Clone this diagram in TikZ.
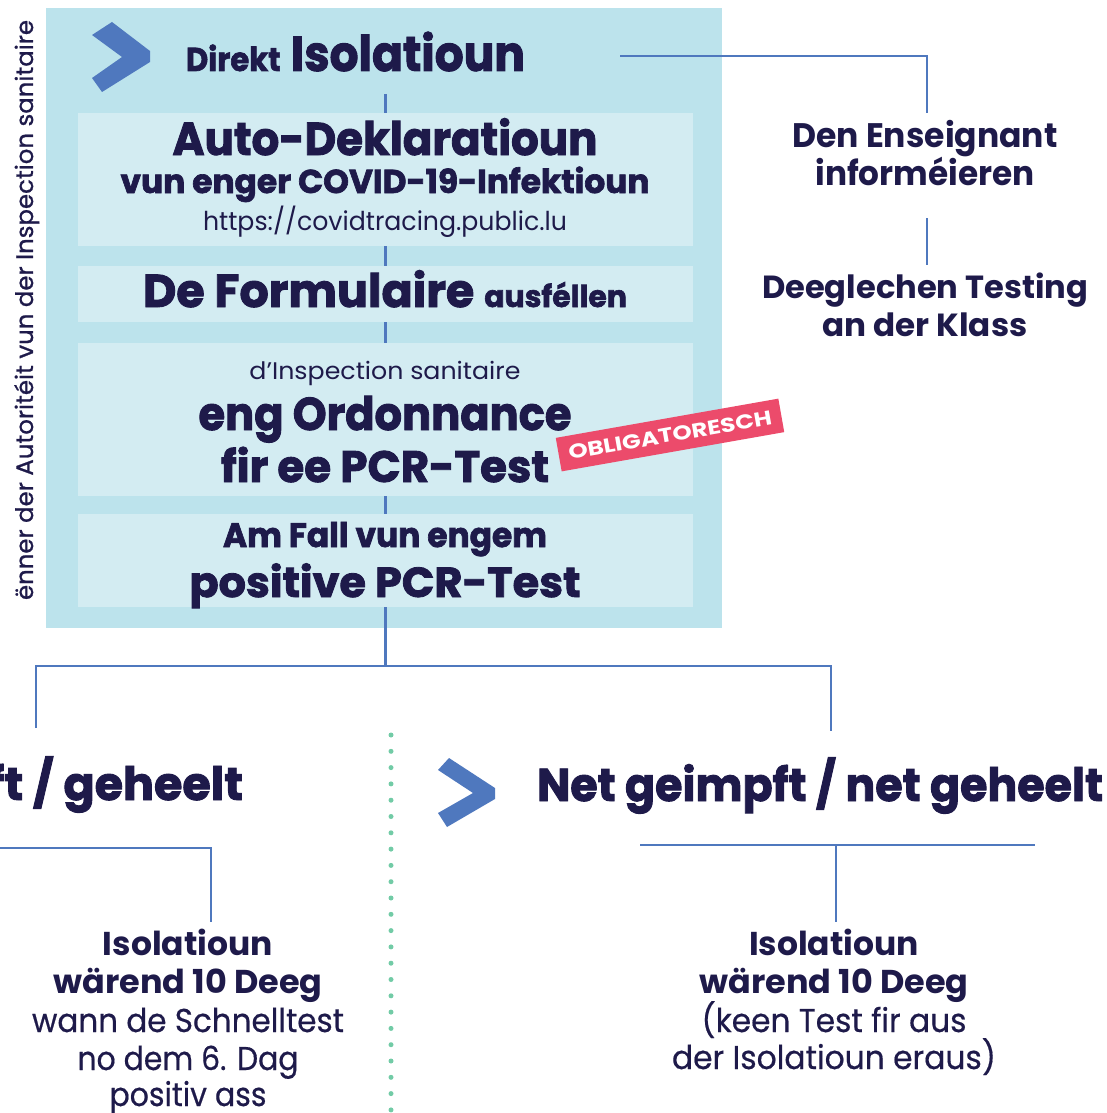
\documentclass[tikz,border=0pt]{standalone}
\usepackage{fontspec}
\usepackage{graphicx}
\setmainfont{Poppins}
\newfontfamily\heavy{Poppins}[BoldFeatures={FakeBold=2}]
\newfontfamily\medium{Poppins}[UprightFeatures={FakeBold=0.5}]
\newfontfamily\sidefont{Poppins}[UprightFeatures={FakeBold=0.9}]
\definecolor{navy}{HTML}{1E1A4A}
\definecolor{lineblue}{HTML}{4F78BE}
\definecolor{outerbg}{HTML}{BCE3EC}
\definecolor{innerbg}{HTML}{D3ECF2}
\definecolor{badgepink}{HTML}{EC4B6B}
\definecolor{dotgreen}{HTML}{72CBA6}
\newcommand\fw[2]{\resizebox{#1pt}{\height}{#2}}
\newcommand\fsz[1]{\fontsize{#1}{#1}\selectfont}
\newcommand\hv{\heavy\bfseries}
\begin{document}
\begin{tikzpicture}[x=1pt,y=-1pt,
  every node/.style={inner sep=0pt,outer sep=0pt,text=navy},
  txt/.style={anchor=base},
  link/.style={draw=lineblue,line width=2.5pt},
  panelbox/.style={fill=outerbg,draw=none,anchor=north west},
  stepbox/.style={fill=innerbg,draw=none,anchor=north west,minimum width=615},
  chev/.style={fill=lineblue,draw=none},
  dots/.style={draw=dotgreen,line width=5pt,line cap=round,dash pattern=on 0pt off 16.3pt}]
\useasboundingbox (0,0) rectangle (1107,1113);
\clip (0,0) rectangle (1107,1113);

% panel and steps
\node[panelbox,minimum width=676,minimum height=620] (panel) at (46,8) {};
\node[stepbox,minimum height=133] (b1) at (78,113) {};
\node[stepbox,minimum height=56] (b2) at (78,266) {};
\node[stepbox,minimum height=153] (b3) at (78,343) {};
\node[stepbox,minimum height=93] (b4) at (78,514) {};

% side text
\node[txt,rotate=90] (side) at (33,310) {\fw{580}{\sidefont\fsz{24}ënner der Autoritéit vun der Inspection sanitaire}};

% chevron top
\fill[chev] (92,35) -- (112,22) -- (150,51) -- (150,62) -- (102,92) -- (92,78) -- (122,57) -- cycle;
\node[txt,anchor=base west] (title) at (186,71) {\fw{339}{\hv{\fsz{33}Direkt}\hspace{11pt}{\fsz{49}Isolatioun}}};

% step texts
\node[txt] (t1a) at (385,155) {\fw{425}{\hv\fsz{46}Auto-Deklaratioun}};
\node[txt] (t1b) at (385,193) {\fw{529}{\hv\fsz{33}vun enger COVID-19-Infektioun}};
\node[txt] (t1c) at (385,230) {\fw{364}{\fsz{26}https://covidtracing.public.lu}};
\node[txt] (t2) at (385,307) {\fw{484}{\hv{\fsz{46}De Formulaire}\hspace{10pt}{\fsz{30}ausféllen}}};
\node[txt] (t3a) at (385,379) {\fw{271}{\fsz{24}d’Inspection sanitaire}};
\node[txt] (t3b) at (385,430) {\fw{373}{\hv\fsz{46}eng Ordonnance}};
\node[txt] (t3c) at (385,482) {\fw{328}{\hv\fsz{44}fir ee PCR-Test}};
\node[txt] (t4a) at (385,547) {\fw{324}{\hv\fsz{34}Am Fall vun engem}};
\node[txt] (t4b) at (385,597) {\fw{391}{\hv\fsz{42}positive PCR-Test}};

% badge
\node[fill=badgepink,rotate=10,minimum width=226,minimum height=34,text=white] (badge) at (670,435) {\raisebox{-2pt}{\fw{206}{\bfseries\fsz{20}OBLIGATORESCH}}};

% connectors inside panel
\coordinate (c0) at (385.5,94);
\draw[link] (c0) -- (b1.north);
\draw[link] (b1.south) -- (b2.north);
\draw[link] (b2.south) -- (b3.north);
\draw[link] (b3.south) -- (b4.north);

% right branch at top
\coordinate (dstart) at (620,56);
\coordinate (ensTop) at (927,113);
\draw[link] (dstart) -| (ensTop);
\node[txt] (ens1) at (925,147) {\fw{265}{\bfseries\fsz{34}Den Enseignant}};
\node[txt] (ens2) at (925,185) {\fw{219}{\bfseries\fsz{34}informéieren}};
\coordinate (e1) at (927,218);
\coordinate (e2) at (927,265);
\draw[link] (e1) -- (e2);
\node[txt] (dg1) at (925,298) {\fw{326}{\bfseries\fsz{32}Deeglechen Testing}};
\node[txt] (dg2) at (925,336) {\fw{205}{\bfseries\fsz{32}an der Klass}};

% split
\coordinate (split) at (385.5,666);
\coordinate (lt) at (36,728);
\coordinate (rt) at (831,731);
\draw[link] (b4.south) -- (split);
\draw[link] (lt) |- (split) -| (rt);

% left heading (clipped)
\node[txt,anchor=base east] (lhead) at (243,800) {\hv\fsz{46}ft / geheelt};
% right heading
\fill[chev] (438,770) -- (449,758) -- (495,788) -- (495,799) -- (447,827) -- (438,813) -- (473,793) -- cycle;
\node[txt,anchor=base west] (rhead) at (537,801) {\fw{566}{\hv\fsz{46}Net geimpft / net geheelt}};

% divider
\coordinate (d1) at (391,735);
\coordinate (d2) at (391,1110);
\draw[dots] (d1) -- (d2);

% lower left
\coordinate (ll1) at (-5,848);
\coordinate (ll2) at (211,922);
\draw[link] (ll1) -| (ll2);
\node[txt] (l1) at (188,955) {\fw{170}{\bfseries\fsz{33}Isolatioun}};
\node[txt] (l2) at (188,993) {\fw{269}{\bfseries\fsz{33}wärend 10 Deeg}};
\node[txt] (l3) at (188,1032) {\fw{312}{\medium\fsz{33}wann de Schnelltest}};
\node[txt] (l4) at (188,1070) {\fw{221}{\medium\fsz{33}no dem 6. Dag}};
\node[txt] (l5) at (188,1106) {\fw{157}{\medium\fsz{33}positiv ass}};

% lower right
\coordinate (rl1) at (640,845);
\coordinate (rl2) at (1035,845);
\coordinate (rlm) at (836,845);
\coordinate (rle) at (836,922);
\draw[link] (rl1) -- (rl2);
\draw[link] (rlm) -- (rle);
\node[txt] (r1) at (834,955) {\fw{170}{\bfseries\fsz{33}Isolatioun}};
\node[txt] (r2) at (834,993) {\fw{269}{\bfseries\fsz{33}wärend 10 Deeg}};
\node[txt] (r3) at (834,1032) {\fw{265}{\medium\fsz{33}(keen Test fir aus}};
\node[txt] (r4) at (834,1069) {\fw{324}{\medium\fsz{33}der Isolatioun eraus)}};
\end{tikzpicture}
\end{document}
